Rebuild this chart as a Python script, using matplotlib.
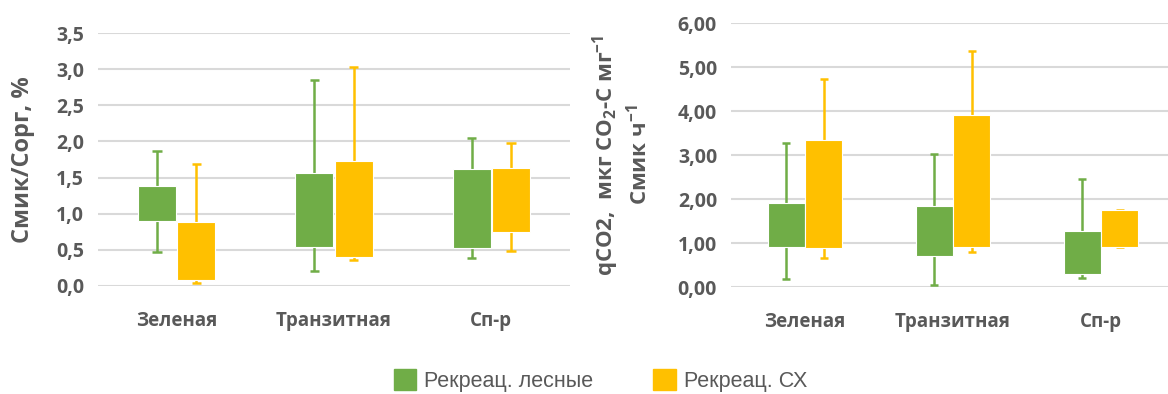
import matplotlib
matplotlib.use("Agg")
import matplotlib.pyplot as plt
import numpy as np
from matplotlib.patches import Patch

plt.rcParams["mathtext.fontset"] = "custom"
plt.rcParams["mathtext.rm"] = "Open Sans:bold"
plt.rcParams["mathtext.it"] = "Open Sans:bold"
plt.rcParams["mathtext.bf"] = "Open Sans:bold"
plt.rcParams["mathtext.default"] = "rm"

categories = ["Зеленая", "Транзитная", "Сп-р"]
series = ["Рекреац. лесные", "Рекреац. СХ"]
colors = ["#70AD47", "#FFC000"]

# Left chart: Смик/Сорг, %  (min, q1, q3, max)
left_forest_min = [0.47, 0.21, 0.39]
left_forest_q1 = [0.90, 0.54, 0.52]
left_forest_q3 = [1.39, 1.57, 1.62]
left_forest_max = [1.87, 2.85, 2.05]
left_agri_min = [0.04, 0.36, 0.48]
left_agri_q1 = [0.08, 0.40, 0.75]
left_agri_q3 = [0.88, 1.73, 1.63]
left_agri_max = [1.69, 3.03, 1.98]

# Right chart: qCO2
right_forest_min = [0.18, 0.05, 0.21]
right_forest_q1 = [0.90, 0.70, 0.30]
right_forest_q3 = [1.91, 1.84, 1.28]
right_forest_max = [3.28, 3.02, 2.46]
right_agri_min = [0.65, 0.79, 0.90]
right_agri_q1 = [0.88, 0.91, 0.91]
right_agri_q3 = [3.33, 3.92, 1.76]
right_agri_max = [4.73, 5.36, 1.76]

left_yticks = [0.0, 0.5, 1.0, 1.5, 2.0, 2.5, 3.0, 3.5]
right_yticks = [0, 1, 2, 3, 4, 5, 6]

TICK_COLOR = "#595959"
FONT = "Open Sans"

fig = plt.figure(figsize=(11.68, 3.94), dpi=100)


def draw(ax, data, width, offset, yticks, fmt):
    x = np.arange(len(categories))
    for i, (mn, q1, q3, mx) in enumerate(data):
        xs = x + (i - 0.5) * 2 * offset
        c = colors[i]
        ax.vlines(xs, mn, mx, color=c, lw=1.8, zorder=2)
        ax.hlines(mn, xs - 0.03, xs + 0.03, color=c, lw=1.8, zorder=2)
        ax.hlines(mx, xs - 0.03, xs + 0.03, color=c, lw=1.8, zorder=2)
        ax.bar(xs, np.array(q3) - np.array(q1), bottom=q1, width=width,
               color=c, edgecolor="white", linewidth=0.8, zorder=3)
    ax.set_xlim(-0.5, len(categories) - 0.5)
    ax.set_ylim(yticks[0], yticks[-1])
    ax.set_yticks(yticks)
    ax.set_yticklabels([fmt(v) for v in yticks], fontsize=14,
                       fontweight="bold", color=TICK_COLOR, family=FONT)
    ax.set_xticks(x)
    ax.set_xticklabels(categories, fontsize=13.5, fontweight="bold",
                       color=TICK_COLOR, family=FONT)
    ax.tick_params(axis="both", length=0)
    ax.tick_params(axis="x", pad=18)
    ax.tick_params(axis="y", pad=10)
    for s in ax.spines.values():
        s.set_visible(False)
    ax.yaxis.grid(True, color="#D9D9D9", lw=1.5, zorder=0)
    ax.set_axisbelow(True)


axL = fig.add_axes([98 / 1168, 108 / 394, 472 / 1168, 253 / 394])
draw(axL,
     [(left_forest_min, left_forest_q1, left_forest_q3, left_forest_max),
      (left_agri_min, left_agri_q1, left_agri_q3, left_agri_max)],
     0.24, 0.125, left_yticks, lambda v: f"{v:.1f}".replace(".", ","))
axL.set_ylabel("Смик/Сорг, %", fontsize=17, fontweight="bold",
               color=TICK_COLOR, family=FONT, labelpad=15)

axR = fig.add_axes([731 / 1168, 107 / 394, 444 / 1168, 264 / 394])
draw(axR,
     [(right_forest_min, right_forest_q1, right_forest_q3, right_forest_max),
      (right_agri_min, right_agri_q1, right_agri_q3, right_agri_max)],
     0.25, 0.128, right_yticks, lambda v: f"{v:.2f}".replace(".", ","))
axR.set_ylabel("qCO2,  мкг CO$_2$-C мг$^{-1}$\nСмик ч$^{-1}$", fontsize=16,
               fontweight="bold", color=TICK_COLOR, family=FONT, labelpad=19,
               linespacing=1.2)

handles = [Patch(facecolor=c, edgecolor=c) for c in colors]
fig.legend(handles, series, loc="center", bbox_to_anchor=(0.514, 0.035),
           ncol=2, frameon=False, columnspacing=2.8,
           handlelength=1.05, handleheight=1.15, handletextpad=0.35,
           prop={"family": "Liberation Sans", "size": 15.5},
           labelcolor="#595959")

fig.savefig("out.png", dpi=100)
